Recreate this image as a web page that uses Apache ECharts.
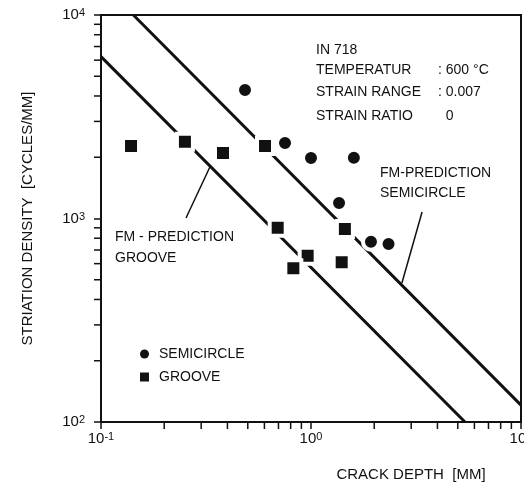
<!DOCTYPE html>
<html>
<head>
<meta charset="utf-8">
<script src="https://cdn.jsdelivr.net/npm/echarts@6/dist/echarts.min.js"></script>
<style>
html, body { margin: 0; padding: 0; background: #fff; }
#chart { width: 524px; height: 485px; }
</style>
</head>
<body>
<div id="chart"></div>
<script>
// measured points (crack depth in mm, striation density in cycles/mm)
const semicircleDepth = [0.485, 0.752, 1.0, 1.60, 1.36, 1.93, 2.34];
const semicircleDensity = [4280, 2350, 1983, 1990, 1192, 769, 749];
const grooveDepth = [0.139, 0.251, 0.381, 0.604, 0.694, 1.45, 0.964, 0.824, 1.40];
const grooveDensity = [2270, 2386, 2098, 2270, 901, 888, 657, 569, 609];

// FM prediction lines (end points on the frame)
const semiPredDepth = [0.1426, 10];
const semiPredDensity = [10000, 121];
const groovePredDepth = [0.1, 5.41];
const groovePredDensity = [6240, 100];

// pointer lines from the labels to the prediction lines
const grooveLeaderDepth = [0.254, 0.330];
const grooveLeaderDensity = [1006, 1791];
const semiLeaderDepth = [3.38, 2.71];
const semiLeaderDensity = [1076, 482];

// minor ticks of the log axes
const xMinorTicks = [0.2, 0.3, 0.4, 0.5, 0.6, 0.7, 0.8, 0.9, 2, 3, 4, 5, 6, 7, 8, 9];
const yMinorTicks = [200, 300, 400, 500, 600, 700, 800, 900, 2000, 3000, 4000, 5000, 6000, 7000, 8000, 9000];

const infoLines = ['IN 718', 'TEMPERATUR', 'STRAIN RANGE', 'STRAIN RATIO'];
const infoValues = ['', ': 600 °C', ': 0.007', '  0'];

const FONT = "'Liberation Sans', Arial, sans-serif";
const INK = '#111';

const zip = (a, b) => a.map((v, i) => [v, b[i]]);

function powLabel(v) {
    const e = Math.round(Math.log10(v));
    return '{b|10}{s|' + e + '}';
}
const powRich = {
    b: { fontSize: 15, fontFamily: FONT, color: INK, lineHeight: 15, verticalAlign: 'bottom' },
    s: { fontSize: 11, fontFamily: FONT, color: INK, lineHeight: 11, verticalAlign: 'top', padding: [0, 0, 12, 0] }
};

const chart = echarts.init(document.getElementById('chart'));

const option = {
    animation: false,
    backgroundColor: '#fff',
    grid: {
        left: 101, right: 3, top: 15, bottom: 63, containLabel: false, outerBoundsMode: 'none',
        show: true, borderColor: INK, borderWidth: 2
    },
    legend: {
        orient: 'vertical', left: 135, top: 342, itemWidth: 9, itemHeight: 9, itemGap: 9,
        data: [{ name: 'SEMICIRCLE', icon: 'circle' }, { name: 'GROOVE', icon: 'rect' }],
        itemStyle: { borderWidth: 0 },
        textStyle: { fontFamily: FONT, fontSize: 14, color: INK, lineHeight: 14, padding: [0, 0, 0, 5] }
    },
    xAxis: {
        type: 'log', logBase: 10, min: 0.1, max: 10,
        name: 'CRACK DEPTH  [MM]', nameLocation: 'middle', nameGap: 45,
        nameTextStyle: { fontFamily: FONT, fontSize: 15, color: INK, padding: [0, 0, 0, 200] },
        axisLine: { lineStyle: { color: INK, width: 2 } },
        axisTick: { inside: false, length: 7, lineStyle: { color: INK, width: 1.5 } },
        axisLabel: { margin: 9, formatter: powLabel, rich: powRich },
        splitLine: { show: false }
    },
    yAxis: {
        type: 'log', logBase: 10, min: 100, max: 10000,
        name: 'STRIATION DENSITY  [CYCLES/MM]', nameLocation: 'middle', nameGap: 66,
        nameTextStyle: { fontFamily: FONT, fontSize: 15, color: INK },
        axisLine: { lineStyle: { color: INK, width: 2 } },
        axisTick: { inside: false, length: 7, lineStyle: { color: INK, width: 1.5 } },
        axisLabel: { margin: 16, formatter: powLabel, rich: powRich },
        splitLine: { show: false }
    },
    series: [
        {
            name: 'semicircle prediction', type: 'line', data: zip(semiPredDepth, semiPredDensity),
            showSymbol: false, symbol: 'none', z: 2, lineStyle: { color: INK, width: 3 }
        },
        {
            name: 'groove prediction', type: 'line', data: zip(groovePredDepth, groovePredDensity),
            showSymbol: false, symbol: 'none', z: 2, lineStyle: { color: INK, width: 3 }
        },
        {
            name: 'groove pointer', type: 'line', data: zip(grooveLeaderDepth, grooveLeaderDensity),
            showSymbol: false, symbol: 'none', z: 2, lineStyle: { color: INK, width: 1.5 }
        },
        {
            name: 'semicircle pointer', type: 'line', data: zip(semiLeaderDepth, semiLeaderDensity),
            showSymbol: false, symbol: 'none', z: 2, lineStyle: { color: INK, width: 1.5 }
        },
        {
            name: 'SEMICIRCLE', type: 'scatter', data: zip(semicircleDepth, semicircleDensity),
            symbol: 'circle', symbolSize: 16, z: 3,
            itemStyle: { color: INK, borderColor: '#fff', borderWidth: 4, opacity: 1 }
        },
        {
            name: 'GROOVE', type: 'scatter', data: zip(grooveDepth, grooveDensity),
            symbol: 'rect', symbolSize: 16, z: 3,
            itemStyle: { color: INK, borderColor: '#fff', borderWidth: 4, opacity: 1 }
        },
        {
            name: 'x minor ticks', type: 'custom', z: 4, silent: true,
            data: xMinorTicks.map(v => [v, 100]),
            renderItem: function (params, api) {
                const p = api.coord([api.value(0), api.value(1)]);
                return { type: 'line', shape: { x1: p[0], y1: p[1], x2: p[0], y2: p[1] + 7 }, style: { stroke: INK, lineWidth: 1.5 } };
            }
        },
        {
            name: 'y minor ticks', type: 'custom', z: 4, silent: true,
            data: yMinorTicks.map(v => [0.1, v]),
            renderItem: function (params, api) {
                const p = api.coord([api.value(0), api.value(1)]);
                return { type: 'line', shape: { x1: p[0], y1: p[1], x2: p[0] - 7, y2: p[1] }, style: { stroke: INK, lineWidth: 1.5 } };
            }
        }
    ],
    graphic: [
        ...infoLines.map((t, i) => ({
            type: 'text', left: 316, top: 43 + [0, 20, 42, 66][i],
            style: { text: t, fontFamily: FONT, fontSize: 14, fill: INK }
        })),
        ...infoValues.map((t, i) => ({
            type: 'text', left: 438, top: 43 + [0, 20, 42, 66][i],
            style: { text: t, fontFamily: FONT, fontSize: 14, fill: INK }
        })),
        { type: 'text', left: 380, top: 166, style: { text: 'FM-PREDICTION', fontFamily: FONT, fontSize: 14, fill: INK } },
        { type: 'text', left: 380, top: 186, style: { text: 'SEMICIRCLE', fontFamily: FONT, fontSize: 14, fill: INK } },
        { type: 'text', left: 115, top: 230, style: { text: 'FM - PREDICTION', fontFamily: FONT, fontSize: 14, fill: INK } },
        { type: 'text', left: 115, top: 251, style: { text: 'GROOVE', fontFamily: FONT, fontSize: 14, fill: INK } }
    ]
};

chart.setOption(option);
</script>
</body>
</html>
